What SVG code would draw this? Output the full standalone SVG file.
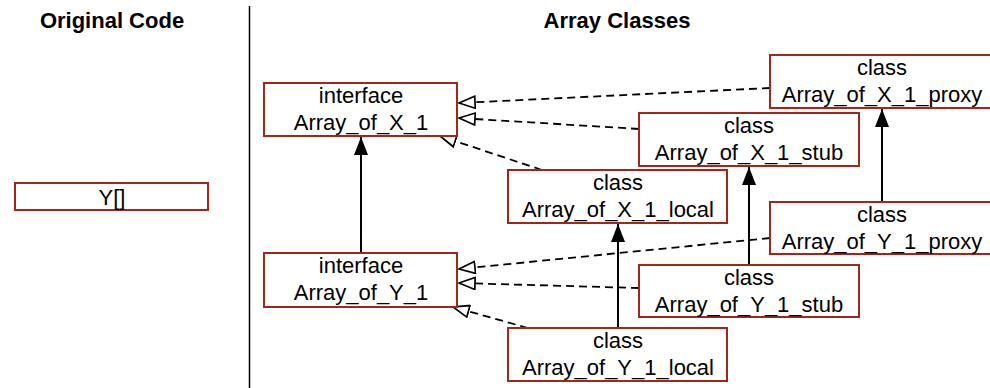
<svg xmlns="http://www.w3.org/2000/svg" width="990" height="388" viewBox="0 0 990 388">
<defs>
<marker id="solid" viewBox="0 0 18 14" refX="18" refY="7" markerWidth="18" markerHeight="14" markerUnits="userSpaceOnUse" orient="auto">
<path d="M0,0 L18,7 L0,14 z" fill="#000"/>
</marker>
<marker id="hollow" viewBox="0 0 18 14" refX="17" refY="7" markerWidth="18" markerHeight="14" markerUnits="userSpaceOnUse" orient="auto">
<path d="M1,1 L17,7 L1,13 z" fill="#fff" stroke="#000" stroke-width="1.7"/>
</marker>
</defs>
<style>
.box{fill:#fff;stroke:#a3261b;stroke-width:2}
.t{font-family:"Liberation Sans",Arial,sans-serif;font-size:22px;fill:#000;text-anchor:middle}
.h{font-family:"Liberation Sans",Arial,sans-serif;font-size:22px;font-weight:bold;fill:#000;text-anchor:middle}
.s{stroke:#000;stroke-width:2;fill:none;marker-end:url(#solid)}
.d{stroke:#000;stroke-width:1.8;fill:none;stroke-dasharray:8,5;marker-end:url(#hollow)}
</style>
<rect width="990" height="388" fill="#fff"/>
<line x1="249.5" y1="6" x2="249.5" y2="388" stroke="#000" stroke-width="1.5"/>
<text class="h" x="112" y="28">Original Code</text>
<text class="h" x="617" y="28">Array Classes</text>
<g id="connectors">
<line class="s" x1="361" y1="253" x2="361" y2="137"/>
<line class="s" x1="618" y1="328" x2="618" y2="224"/>
<line class="s" x1="749" y1="265" x2="749" y2="167"/>
<line class="s" x1="882" y1="202" x2="882" y2="109"/>
<line class="d" x1="770" y1="88" x2="459" y2="103"/>
<line class="d" x1="639" y1="129" x2="459" y2="118"/>
<line class="d" x1="542" y1="170" x2="440" y2="136"/>
<line class="d" x1="770" y1="238" x2="459" y2="269"/>
<line class="d" x1="639" y1="288" x2="459" y2="283"/>
<line class="d" x1="528" y1="328" x2="453" y2="307"/>
</g>
<g id="y-array">
<rect class="box" x="15" y="183" width="193" height="27"/>
<text class="t" x="112" y="205">Y[]</text>
</g>
<g id="array-of-x-1">
<rect class="box" x="264" y="83" width="193" height="53"/>
<text class="t" x="361" y="103">interface</text>
<text class="t" x="361" y="130">Array_of_X_1</text>
</g>
<g id="array-of-y-1">
<rect class="box" x="264" y="253" width="193" height="54"/>
<text class="t" x="361" y="273">interface</text>
<text class="t" x="361" y="300">Array_of_Y_1</text>
</g>
<g id="array-of-x-1-local">
<rect class="box" x="508" y="170" width="219" height="53"/>
<text class="t" x="618" y="190">class</text>
<text class="t" x="618" y="217">Array_of_X_1_local</text>
</g>
<g id="array-of-y-1-local">
<rect class="box" x="508" y="328" width="219" height="53"/>
<text class="t" x="618" y="348">class</text>
<text class="t" x="618" y="375">Array_of_Y_1_local</text>
</g>
<g id="array-of-x-1-stub">
<rect class="box" x="639" y="113" width="220" height="53"/>
<text class="t" x="749" y="133">class</text>
<text class="t" x="749" y="160">Array_of_X_1_stub</text>
</g>
<g id="array-of-y-1-stub">
<rect class="box" x="639" y="265" width="220" height="52"/>
<text class="t" x="749" y="285">class</text>
<text class="t" x="749" y="312">Array_of_Y_1_stub</text>
</g>
<g id="array-of-x-1-proxy">
<rect class="box" x="770" y="55" width="224" height="53"/>
<text class="t" x="882" y="75">class</text>
<text class="t" x="882" y="102">Array_of_X_1_proxy</text>
</g>
<g id="array-of-y-1-proxy">
<rect class="box" x="770" y="202" width="224" height="52"/>
<text class="t" x="882" y="222">class</text>
<text class="t" x="882" y="249">Array_of_Y_1_proxy</text>
</g>
</svg>
